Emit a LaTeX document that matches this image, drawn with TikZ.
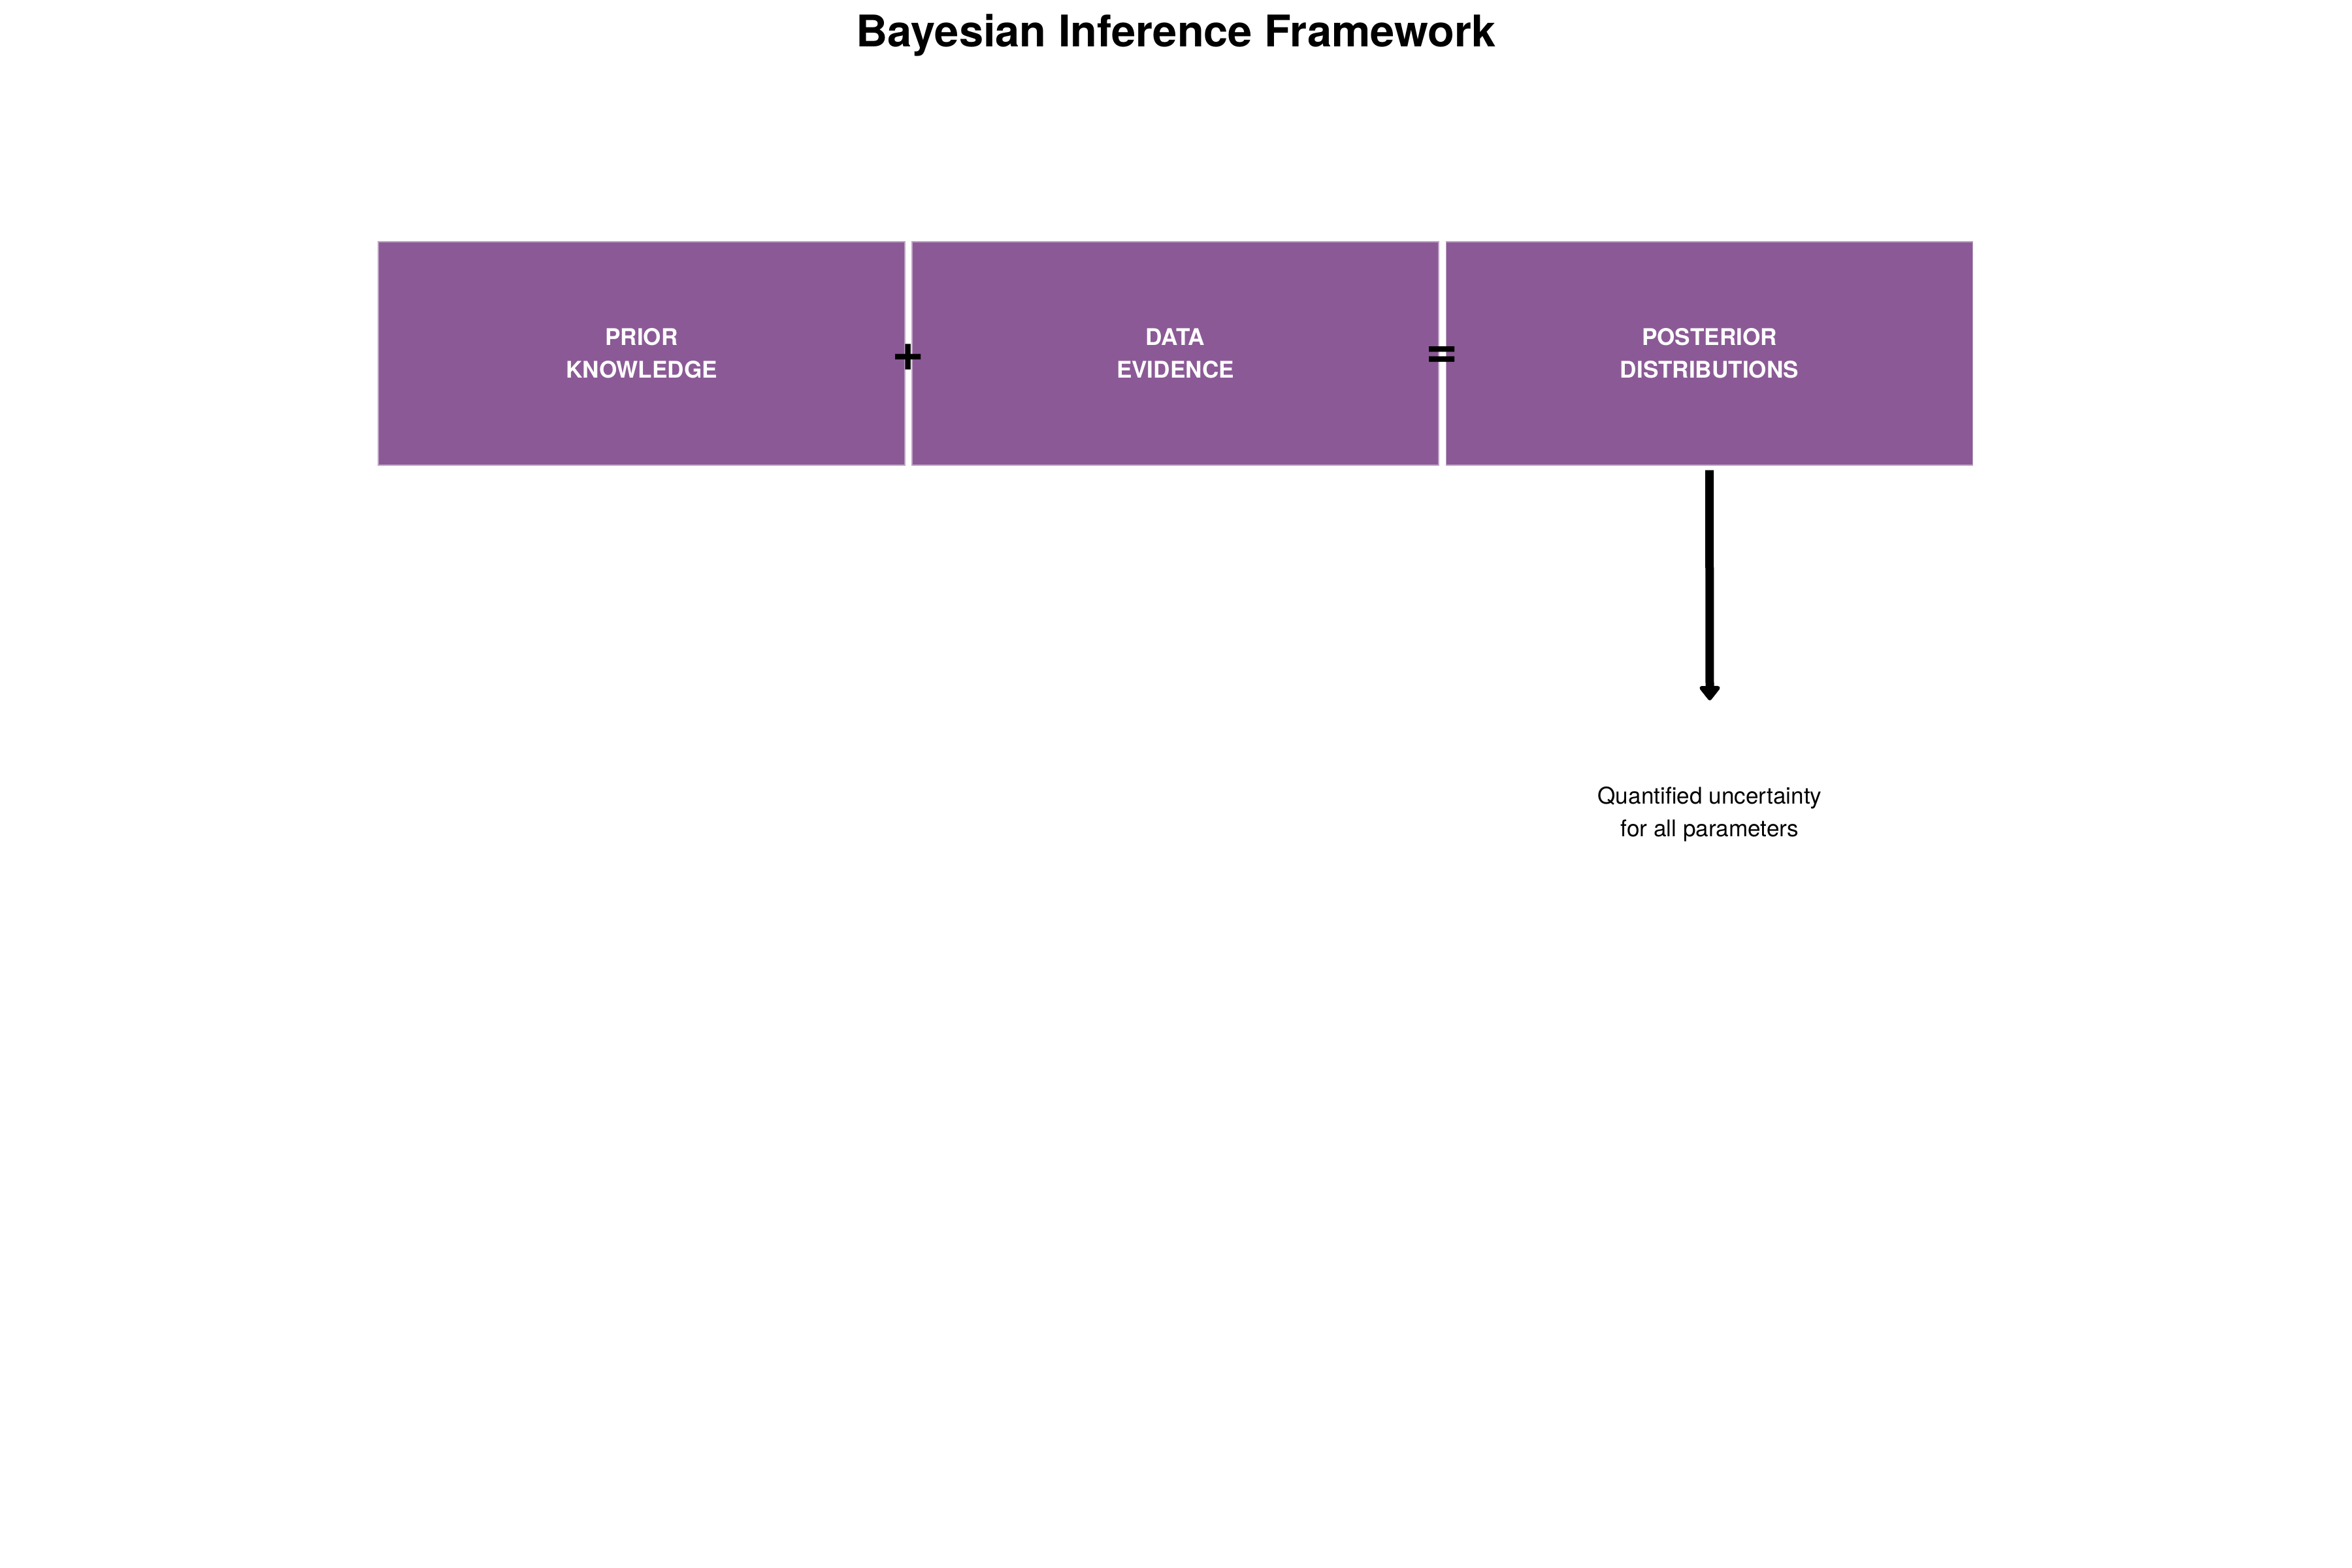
\documentclass[tikz,border=0pt]{standalone}
\usepackage{fontspec}
\setmainfont{TeX Gyre Heros}
\usetikzlibrary{arrows.meta}
\definecolor{boxpurple}{HTML}{8B5A96}
\tikzstyle{stage}=[rectangle,fill=boxpurple,draw=boxpurple!55!white,line width=0.4pt,minimum width=8.06cm,minimum height=3.42cm,inner sep=0pt,text=white,align=center,font=\fontsize{10}{14.2}\selectfont\bfseries]
\tikzstyle{operator}=[inner sep=0pt,font=\fontsize{24}{24}\selectfont\bfseries]
\tikzstyle{flow}=[draw,line width=0.13cm,-{Triangle[width=0.36cm,length=0.24cm,round]}]
\tikzstyle{note}=[align=center,font=\fontsize{10}{14.2}\selectfont]
\begin{document}
\begin{tikzpicture}
  \useasboundingbox (0,0) rectangle (36,-24);
  % Title
  \node[anchor=base,font=\fontsize{19}{23}\selectfont\bfseries] (title) at (18,-0.72) {Bayesian Inference Framework};

  % The three stages of the update
  \foreach \pos/\name/\txt in {{(9.82,-5.41)/prior/PRIOR\\KNOWLEDGE}, {(17.99,-5.41)/data/DATA\\EVIDENCE}, {(26.165,-5.41)/posterior/POSTERIOR\\DISTRIBUTIONS}}
    \node[stage] (\name) at \pos {\txt};

  % Operators between the stages
  \node[operator] (plus) at (13.905,-5.47) {+};
  \node[operator] (equals) at (22.075,-5.47) {=};

  % Result of the posterior
  \node[note] (result) at (26.17,-12.46) {Quantified uncertainty\\for all parameters};
  \coordinate (tip) at (26.17,-10.72);
  \path[flow] ([yshift=-0.07cm]posterior.south) -- (tip);
\end{tikzpicture}
\end{document}
